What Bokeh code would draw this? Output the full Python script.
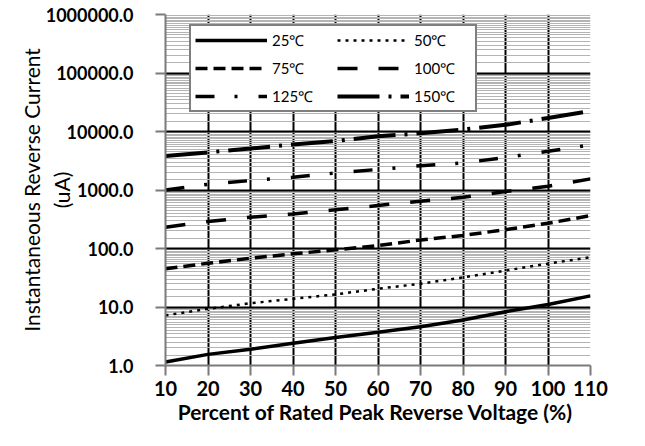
from bokeh.plotting import figure
from bokeh.models import Range1d, FixedTicker, NumeralTickFormatter, Legend, LegendItem
from bokeh.embed import file_html
from bokeh.resources import INLINE

# ---- data ----
voltage_pct = [10, 20, 30, 40, 50, 60, 70, 80, 90, 100, 110]
t25 = [1.15, 1.55, 1.9, 2.4, 3.0, 3.7, 4.6, 6.0, 8.3, 11.0, 15.5]
t50 = [7.2, 9.3, 11.6, 13.8, 16.4, 20.5, 25, 32, 42, 55, 71]
t75 = [45, 56, 68, 81, 95, 112, 140, 167, 210, 270, 365]
t100 = [230, 290, 343, 390, 458, 543, 645, 750, 940, 1160, 1550]
t125 = [1000, 1250, 1450, 1650, 1950, 2250, 2600, 2900, 3600, 4600, 5900]
t150 = [3800, 4400, 5100, 6000, 6900, 8300, 9300, 10800, 13000, 17000, 22500]
series_labels = ["25\u2103", "50\u2103", "75\u2103", "100\u2103", "125\u2103", "150\u2103"]
x_ticks = [10, 20, 30, 40, 50, 60, 70, 80, 90, 100, 110]
y_ticks = [1, 10, 100, 1000, 10000, 100000, 1000000]
x_title = "Percent of  Rated Peak Reverse Voltage (%)"
y_title = "Instantaneous Reverse Current\n(uA)"

FONT = "Lato"

p = figure(width=629, height=430, output_backend="svg", toolbar_location=None,
           y_axis_type="log", x_range=Range1d(10, 110), y_range=Range1d(1, 1e6),
           min_border_left=165, min_border_right=39, min_border_top=14, min_border_bottom=65)
p.outline_line_color = None
p.background_fill_color = "white"

# grids
minor = []
for d in [1, 10, 100, 1000, 10000, 100000]:
    for m in [1.5, 2, 2.5, 3, 3.5, 4, 4.5, 5, 5.5, 6, 6.5, 7, 7.5, 8, 8.5, 9, 9.5]:
        minor.append(d * m)
p.yaxis.ticker = FixedTicker(ticks=y_ticks, minor_ticks=minor)
p.xaxis.ticker = FixedTicker(ticks=x_ticks)
p.ygrid.grid_line_color = "black"
p.ygrid.grid_line_width = 2
p.ygrid.minor_grid_line_color = "#b4b4b4"
p.ygrid.minor_grid_line_width = 1
p.xgrid.grid_line_color = "black"
p.xgrid.grid_line_width = 2

# axes
p.yaxis.formatter = NumeralTickFormatter(format="0.0")
for ax in (p.xaxis, p.yaxis):
    ax.axis_line_color = "#7a7a7a"
    ax.axis_line_width = 2
    ax.major_tick_line_color = "#7a7a7a"
    ax.major_tick_line_width = 2
    ax.major_tick_in = 0
    ax.major_tick_out = 10
    ax.minor_tick_line_color = None
    ax.major_label_text_font = FONT
    ax.major_label_text_font_style = "bold"
    ax.major_label_text_color = "black"
    ax.axis_label_text_font = FONT
    ax.axis_label_text_color = "black"
p.yaxis.major_label_text_font_size = "18px"
p.xaxis.major_label_text_font_size = "20px"
p.yaxis.major_label_standoff = 22
p.xaxis.major_label_standoff = 5

p.xaxis.axis_label = x_title
p.xaxis.axis_label_text_font_style = "bold"
p.xaxis.axis_label_text_font_size = "21px"
p.xaxis.axis_label_standoff = 0

# y title: two lines, pulled in so that "(uA)" overlaps the tick labels as in the original
p.yaxis.axis_label = y_title
p.yaxis.axis_label_text_font_style = "normal"
p.yaxis.axis_label_text_font_size = "21px"
p.yaxis.axis_label_standoff = -31

# series
styles = [
    (t25, "solid", 3.5),
    (t50, "3 5", 2.5),
    (t75, "12 6", 3.5),
    (t100, "20 21", 3.5),
    (t125, "19 20 3 21", 3.5),
    (t150, "42 9 3 9", 4),
]
renderers = []
for ys, dash, w in styles:
    r = p.line(voltage_pct, ys, line_color="black", line_width=w, line_dash=dash)
    renderers.append(r)

# legend: column-first ordering for 2 columns x 3 rows
order = [0, 2, 4, 1, 3, 5]
items = [LegendItem(label=series_labels[i], renderers=[renderers[i]]) for i in order]
legend = Legend(items=items, location=(24, 253), orientation="vertical", ncols=2,
                glyph_width=72, glyph_height=16, label_standoff=5, label_width=57,
                spacing=8, padding=4, margin=0,
                border_line_color="black", border_line_width=2,
                background_fill_color="white", background_fill_alpha=1,
                label_text_font=FONT, label_text_font_size="15px", label_text_color="black",
                label_text_baseline="top")
p.add_layout(legend, "center")

open("out.html", "w").write(file_html(p, INLINE))
